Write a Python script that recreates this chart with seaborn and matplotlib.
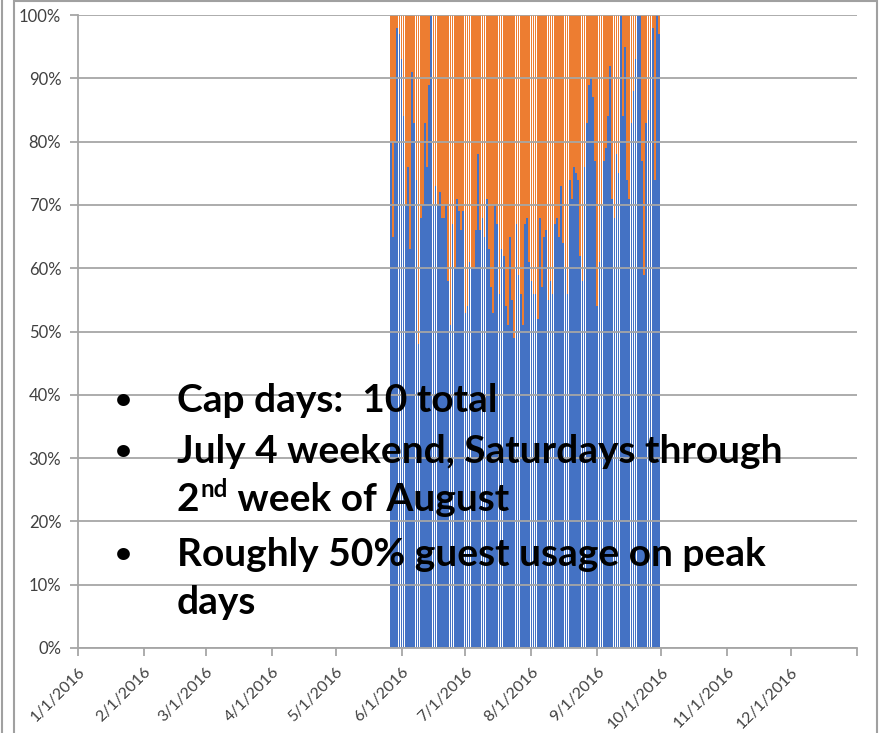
import pandas as pd
import matplotlib.pyplot as plt
import matplotlib.patches as mpatches
from matplotlib.lines import Line2D
import seaborn as sns

# Daily share of capacity (%) - blue = members, orange = guests
# one value per day starting 5/27/2016
start_day = 147  # day index of 5/27/2016 (1/1/2016 = 0)
member_pct = [
    80, 65, 80, 98, 97, 93, 84, 70, 76, 63, 91, 83, 74, 48, 68, 70, 83, 76, 89, 100,
    70, 73, 70, 72, 68, 68, 70, 58, 51,
    67, 60, 71, 69, 66, 69, 53, 54, 61, 60, 60, 66, 78, 66, 68, 65, 71, 63, 57, 53,
    70, 67, 56, 63, 62, 54, 51, 65, 55, 49, 67,
    59, 56, 51, 67, 68, 61, 58, 56, 56, 52, 68, 57, 65, 66, 55, 58, 56, 67, 68, 65,
    73, 64, 60, 56, 74, 71, 76, 75, 74, 62, 58, 76,
    83, 89, 90, 87, 77, 54, 61, 70, 77, 79, 84, 92, 71, 68, 78, 75, 100, 84, 95, 74,
    71, 83, 88, 93, 100, 100, 77, 59, 83, 85, 96, 98, 74, 100, 97,
]
guest_pct = [100 - v for v in member_pct]

month_days = [0, 31, 60, 91, 121, 152, 182, 213, 244, 274, 305, 335, 366]
month_labels = ['1/1/2016', '2/1/2016', '3/1/2016', '4/1/2016', '5/1/2016', '6/1/2016',
                '7/1/2016', '8/1/2016', '9/1/2016', '10/1/2016', '11/1/2016', '12/1/2016', '']

df = pd.DataFrame({'day': [start_day + i for i in range(len(member_pct))],
                   'member': member_pct, 'guest': guest_pct})
df['total'] = df['member'] + df['guest']

sns.set_style('white')
plt.rcParams['font.family'] = ['Lato', 'DejaVu Sans']

fig = plt.figure(figsize=(8.83, 7.33), dpi=100)
ax = fig.add_axes([78 / 883, 1 - 648 / 733, (857 - 78) / 883, (648 - 15) / 733])

sns.barplot(data=df, x='day', y='total', native_scale=True, color='#ED7D31',
            saturation=1, width=0.8, linewidth=0, ax=ax)
sns.barplot(data=df, x='day', y='member', native_scale=True, color='#4472C4',
            saturation=1, width=0.8, linewidth=0, ax=ax)

grid_c = '#a6a6a6'
ax.set_xlim(0, 366)
ax.set_ylim(0, 100)
ax.set_yticks(range(0, 101, 10))
ax.set_yticklabels([f'{v}%' for v in range(0, 101, 10)], fontsize=12)
ax.set_xticks(month_days)
ax.set_xticklabels(month_labels, rotation=45, ha='right', rotation_mode='anchor',
                   fontsize=11.5)
ax.set_xlabel('')
ax.set_ylabel('')
ax.yaxis.grid(True, color=grid_c, linewidth=1.3)
ax.set_axisbelow(False)
for l in ax.get_ygridlines():
    l.set_zorder(0.5)
for s in ['top', 'right']:
    ax.spines[s].set_visible(False)
for s in ['left', 'bottom']:
    ax.spines[s].set_color(grid_c)
    ax.spines[s].set_linewidth(1.3)
ax.tick_params(axis='both', direction='out', length=6, width=1.3, color=grid_c,
               labelcolor='#404040', left=True, bottom=True)
ax.tick_params(axis='y', pad=6)
ax.tick_params(axis='x', pad=6)

# chart frame
fig.add_artist(Line2D([2 / 883, 2 / 883], [0, 1], color='#a0a0a0', lw=1.5))
fig.add_artist(mpatches.Rectangle((14 / 883, -0.01), (877 - 14) / 883, 1.008,
                                  fill=False, edgecolor='#a0a0a0', lw=1.5))

# bullet text overlay
fs = 28
tx = 177 / 883
bx = 123 / 883
kw = dict(fontsize=fs, fontweight='bold', va='baseline', color='black')
bkw = dict(fontsize=21, fontweight='bold', ha='center', va='center', color='black')


def fy(py):
    return 1 - py / 733


fig.text(bx, fy(401), '\u2022', **bkw)
fig.text(tx, fy(412), 'Cap days:  10 total', **kw)
fig.text(bx, fy(452), '\u2022', **bkw)
fig.text(tx, fy(463), 'July 4 weekend, Saturdays through', **kw)

t2 = fig.text(tx, fy(511), '2', **kw)
fig.canvas.draw()
r = fig.canvas.get_renderer()
x2 = t2.get_window_extent(r).x1 / fig.bbox.width
t_nd = fig.text(x2 + 1 / 883, fy(497), 'nd', fontsize=fs * 0.62, fontweight='bold',
                va='baseline', color='black')
fig.canvas.draw()
x3 = t_nd.get_window_extent(r).x1 / fig.bbox.width
fig.text(x3, fy(511), ' week of August', **kw)

fig.text(bx, fy(555), '\u2022', **bkw)
fig.text(tx, fy(566), 'Roughly 50% guest usage on peak', **kw)
fig.text(tx, fy(614), 'days', **kw)

fig.savefig('out.png', dpi=100)
